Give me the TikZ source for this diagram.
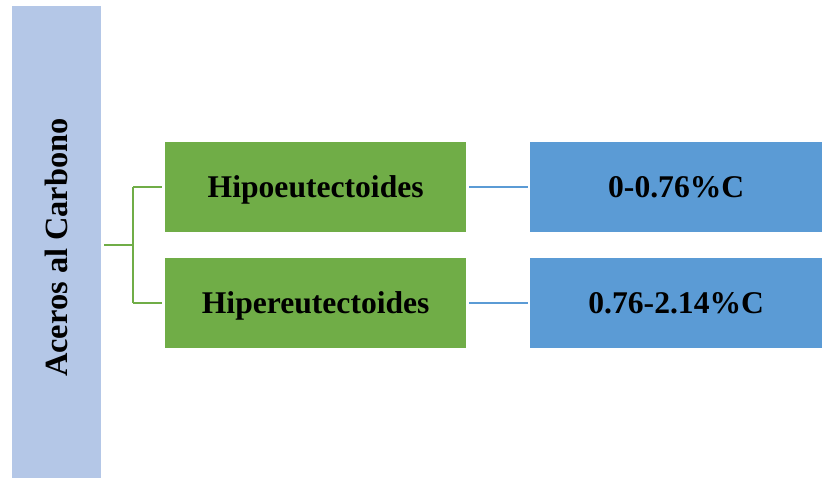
\documentclass[tikz,border=0pt]{standalone}
\usepackage{fontspec}
\setmainfont{Liberation Serif}
\definecolor{barblue}{HTML}{B4C7E7}
\definecolor{boxgreen}{HTML}{70AD47}
\definecolor{boxblue}{HTML}{5B9BD5}
\begin{document}
\begin{tikzpicture}[x=1pt,y=-1pt,
  lbl/.style={font=\fontsize{31.6}{38}\selectfont\bfseries, text=black, text height=21.5pt, text depth=0pt},
  gbox/.style={lbl, fill=boxgreen, minimum width=301pt, minimum height=90pt, inner sep=0pt, anchor=north west},
  bbox/.style={lbl, fill=boxblue, minimum width=292pt, minimum height=90pt, inner sep=0pt, anchor=north west},
  gline/.style={draw=boxgreen, line width=2.2pt},
  bline/.style={draw=boxblue, line width=2.2pt}]
\useasboundingbox (0,0) rectangle (822,479);
\node[fill=barblue, minimum width=89pt, minimum height=472pt, inner sep=0pt, anchor=north west] (root) at (12,6) {};
\node[font=\fontsize{32.4}{38}\selectfont\bfseries, text height=22pt, text depth=0pt, inner sep=0pt, rotate=90] (rootlbl) at (56.5,247.5) {Aceros al Carbono};
\node[gbox] (g1) at (165,142) {Hipoeutectoides};
\node[gbox] (g2) at (165,258) {Hipereutectoides};
\node[bbox] (b1) at (530,142) {0-0.76\%C};
\node[bbox] (b2) at (530,258) {0.76-2.14\%C};
\coordinate (j) at (133,245);
\draw[gline] ([xshift=3pt]root.east |- j) -- (j);
\draw[gline] (j |- g1.west) -- (j |- g2.west);
\draw[gline] (j |- g1.west) -- ([xshift=-3pt]g1.west);
\draw[gline] (j |- g2.west) -- ([xshift=-3pt]g2.west);
\draw[bline] ([xshift=3pt]g1.east) -- ([xshift=-2pt]b1.west);
\draw[bline] ([xshift=3pt]g2.east) -- ([xshift=-2pt]b2.west);
\end{tikzpicture}
\end{document}
